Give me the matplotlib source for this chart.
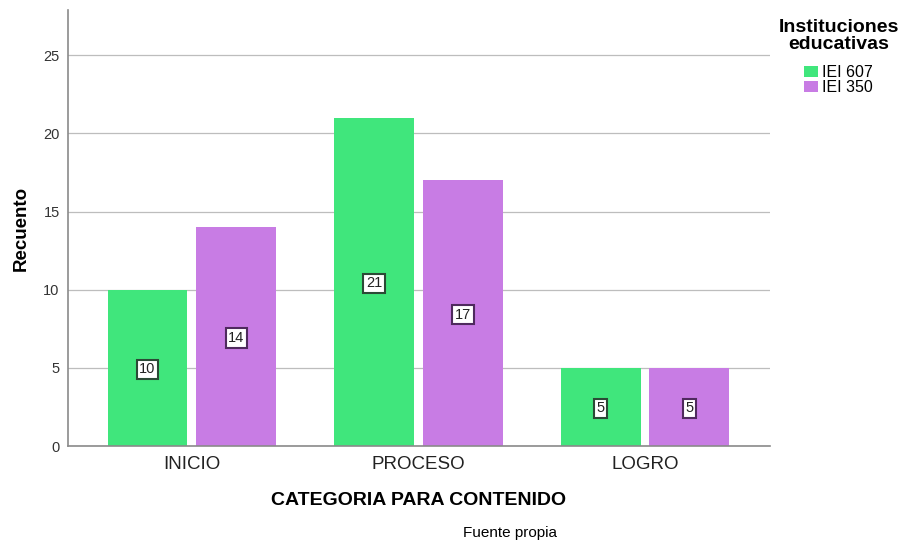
import matplotlib.pyplot as plt
import numpy as np

plt.rcParams['font.family'] = ['Liberation Sans', 'DejaVu Sans']

# data
categorias = ['INICIO', 'PROCESO', 'LOGRO']
iei_607 = [10, 21, 5]
iei_350 = [14, 17, 5]
series = ['IEI 607', 'IEI 350']

verde = '#40e67c'
morado = '#c87ce4'

fig = plt.figure(figsize=(9.03, 5.48), dpi=100)
ax = fig.add_axes([0.0753, 0.1861, 0.7774, 0.7957])

x = np.arange(len(categorias))
w = 0.353
off = 0.196

b1 = ax.bar(x - off, iei_607, w, color=verde, label=series[0], zorder=2)
b2 = ax.bar(x + off, iei_350, w, color=morado, label=series[1], zorder=2)

# value boxes in the middle of each bar
for bars, vals, ec in [(b1, iei_607, '#2b4a36'), (b2, iei_350, '#4f2a5e')]:
    for b, v in zip(bars, vals):
        ax.text(b.get_x() + b.get_width() / 2, v / 2, str(v), ha='center',
                va='center_baseline', fontsize=10.5, color='#222222', zorder=3,
                bbox=dict(boxstyle='square,pad=0.18', fc='white', ec=ec, lw=1.5))

ax.set_xlim(-0.547, 2.552)
ax.set_ylim(0, 27.9)
ax.set_yticks([0, 5, 10, 15, 20, 25])
ax.set_xticks(x)
ax.set_xticklabels(categorias, fontsize=13.5, color='#222222')
ax.tick_params(axis='x', length=0, pad=7)
ax.tick_params(axis='y', length=0, labelsize=10.5, labelcolor='#333333', pad=6)
ax.yaxis.grid(True, color='#bdbdbd', lw=0.9, zorder=0)

for s in ['top', 'right']:
    ax.spines[s].set_visible(False)
for s in ['left', 'bottom']:
    ax.spines[s].set_color('#8a8a8a')
    ax.spines[s].set_linewidth(1.2)

ax.set_ylabel('Recuento', fontsize=13.5, fontweight='bold', labelpad=10)
ax.set_xlabel('CATEGORIA PARA CONTENIDO', fontsize=14, fontweight='bold', labelpad=14)

# legend title drawn separately so its spacing can match
fig.text(839 / 903, 1 - 19 / 548, 'Instituciones\neducativas', ha='center', va='top',
         fontsize=14, fontweight='bold', linespacing=1.0)
fig.legend(handles=[b1, b2], labels=series, loc='upper left',
           bbox_to_anchor=(804 / 903, 1 - 65 / 548), frameon=False,
           fontsize=11.5, handlelength=0.85, handleheight=0.75, handletextpad=0.3,
           labelspacing=0.0, borderaxespad=0, borderpad=0)

fig.text(0.5645, 0.028, 'Fuente propia', ha='center', va='center', fontsize=11)

fig.savefig('out.png', dpi=100)
